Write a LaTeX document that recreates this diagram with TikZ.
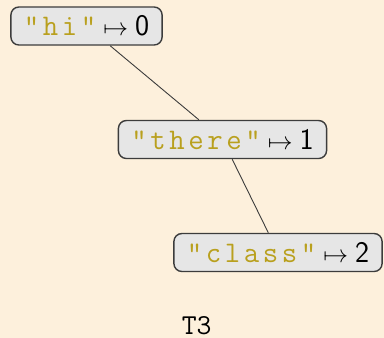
\documentclass[tikz,border=0pt]{standalone}
\usepackage{fontspec}
\definecolor{bgc}{RGB}{253,240,220}
\definecolor{keyc}{RGB}{185,160,30}
\definecolor{boxc}{RGB}{230,230,230}
\definecolor{edgec}{RGB}{60,60,60}
\newcommand{\lsp}{3.6bp}
\def\spaceout#1{\ifx#1\relax\else#1\kern\lsp\expandafter\spaceout\fi}
\newcommand{\kstr}[1]{{\ttfamily\color{keyc}\spaceout"#1"\relax\kern-\lsp}}
\newcommand{\mto}{\kern7bp$\mapsto$\kern7bp}
\begin{document}
\begin{tikzpicture}[x=1bp,y=-1bp,
  kv/.style={draw=edgec, line width=1.4bp, fill=boxc, rounded corners=8bp,
    inner xsep=13bp, inner ysep=0bp, minimum height=38bp,
    font=\fontsize{30}{36}\selectfont},
  link/.style={draw=edgec, line width=0.9bp}]
\fill[bgc] (0,0) rectangle (384,338);
\useasboundingbox (0,0) rectangle (384,338);
\node[kv] (n1) at (86.5,26) {\kstr{hi}\mto\sffamily 0};
\node[kv] (n2) at (222.5,139.5) {\kstr{there}\mto\sffamily 1};
\node[kv] (n3) at (278,252.5) {\kstr{class}\mto\sffamily 2};
\node[font=\fontsize{29}{34}\selectfont\ttfamily, anchor=base, inner sep=0pt] (t) at (196.7,334) {T3};
\draw[link] (n1) -- (n2);
\draw[link] (n2) -- (n3);
\end{tikzpicture}
\end{document}
